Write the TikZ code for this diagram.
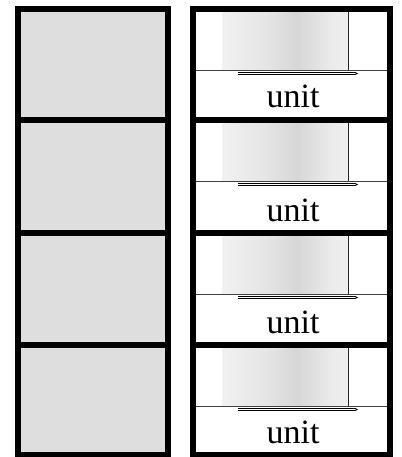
\documentclass[tikz,border=0pt]{standalone}
\usepackage{fontspec}
\setmainfont{Liberation Serif}
\usetikzlibrary{arrows.meta}
\pgfdeclarehorizontalshading{blob}{100bp}{color(0bp)=(white); color(20bp)=(black!4); color(42bp)=(black!10); color(55bp)=(black!16); color(68bp)=(black!8); color(85bp)=(black!3); color(100bp)=(white)}
\tikzset{
  frame/.style={line width=6pt, line cap=rect},
  sep/.style={line width=6pt},
  stipple/.style={fill=black!13},
  thinline/.style={line width=0.9pt, draw=black!75},
  vline/.style={line width=1pt, draw=black!85},
  bar/.style={double=white, double distance=1pt, line width=0.9pt, -{Stealth[length=3pt,width=3pt]}},
  unitlabel/.style={font=\fontsize{34}{34}\selectfont, inner sep=0pt, anchor=base}
}
\begin{document}
\begin{tikzpicture}[x=1pt,y=-1pt]
\useasboundingbox (0,0) rectangle (401,457);
\fill[white] (0,0) rectangle (401,457);
\def\tops{{9,120,233,345,455}}
% fills first
\foreach \i in {0,1,2,3}{
  \pgfmathsetmacro{\T}{\tops[\i]}
  \pgfmathsetmacro{\B}{\tops[\i+1]}
  \pgfmathsetmacro{\H}{\T+61.5}
  \fill[stipple] (21,\T+3) rectangle (165,\B-3);
  \shade[shading=blob] (222,\T+3) rectangle (348,\H);
}
% lines, bars and labels
\foreach \i in {0,1,2,3}{
  \pgfmathsetmacro{\T}{\tops[\i]}
  \pgfmathsetmacro{\B}{\tops[\i+1]}
  \pgfmathsetmacro{\H}{\T+61.5}
  \pgfmathsetmacro{\A}{\T+64.5}
  \pgfmathsetmacro{\U}{\B-12}
  \coordinate (vt\i) at (348.5,\T+3);
  \coordinate (vb\i) at (348.5,\H);
  \draw[vline] (vt\i) -- (vb\i);
  \coordinate (hl\i) at (196,\H);
  \coordinate (hr\i) at (387,\H);
  \draw[thinline] (hl\i) -- (hr\i);
  \coordinate (as\i) at (238,\A);
  \coordinate (ae\i) at (358,\A);
  \draw[bar] (as\i) -- (ae\i);
  \node[unitlabel] (u\i) at (293,\U) {unit};
}
% frames
\draw[frame] (18,9) rectangle (168,455);
\draw[frame] (193,9) rectangle (390,455);
\foreach \y in {120,233,345}{
  \draw[sep] (18,\y) -- (168,\y);
  \draw[sep] (193,\y) -- (390,\y);
}
\end{tikzpicture}
\end{document}
